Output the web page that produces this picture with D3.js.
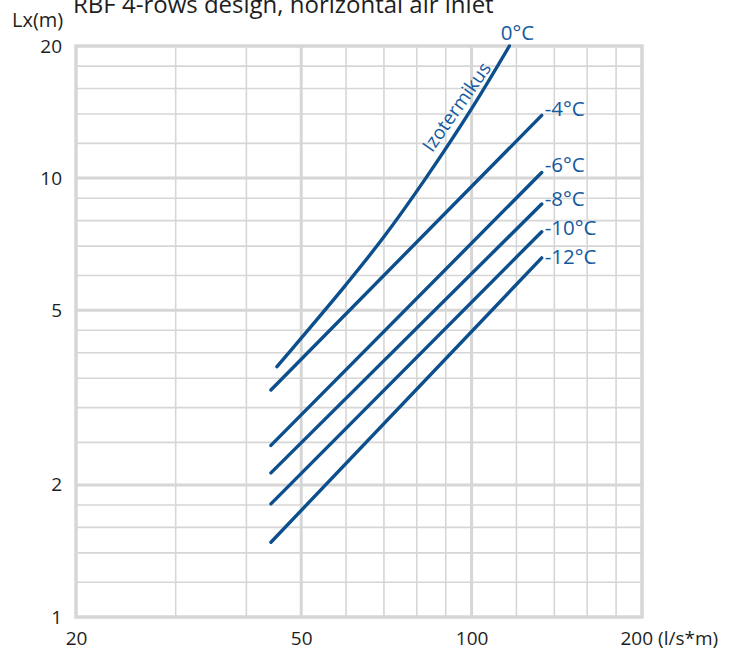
<!DOCTYPE html>
<html>
<head>
<meta charset="utf-8">
<script src="https://cdn.jsdelivr.net/npm/d3@7"></script>
<style>
  body { margin: 0; background: #fff; }
  svg { display: block; font-family: "Open Sans", sans-serif; }
</style>
</head>
<body>
<svg id="chart" width="739" height="650"></svg>
<script>
// ---- data ----
const titleText = "RBF 4-rows design, horizontal air inlet";
const yAxisTitle = "Lx(m)";
const xUnit = "(l/s*m)";
const xTickLabels = [20, 50, 100, 200];
const yTickLabels = [1, 2, 5, 10, 20];
const xMajorGrid = [50, 100];
const xMinorGrid = [30, 40, 60, 70, 80, 90, 120, 140, 160, 180];
const yMajorGrid = [2, 5, 10];
const yMinorGrid = [1.2, 1.4, 1.6, 1.8, 2.5, 3, 3.5, 4, 4.5, 6, 7, 8, 9, 12, 14, 16, 18];

const seriesNames = ["0°C", "-4°C", "-6°C", "-8°C", "-10°C", "-12°C"];
const iso0X = [45.3, 50, 60, 70, 83, 100, 116.6];
const iso0Y = [3.72, 4.32, 5.72, 7.35, 10.0, 14.4, 20];
const lineX = [44.2, 133];
const m4Y = [3.29, 13.9];
const m6Y = [2.46, 10.3];
const m8Y = [2.13, 8.73];
const m10Y = [1.81, 7.55];
const m12Y = [1.48, 6.58];
const isoLabel = "Izotermikus";
const isoLabelAt = [85.2, 11.4];

// ---- layout / style ----
const mLeft = 76, mRight = 642, mTop = 46, mBottom = 617;
const blue = "#0c4f8c";
const labelBlue = "#135a9f";
const gridCol = "#d6d6d6";
const textCol = "#1e1e1e";
const fontSize = 19;
const labelSize = 20.5;

const svg = d3.select("#chart");
const x = d3.scaleLog().domain([20, 200]).range([mLeft, mRight]);
const y = d3.scaleLog().domain([1, 20]).range([mBottom, mTop]);

// grid
const g = svg.append("g");
g.selectAll(".vmin").data(xMinorGrid).join("line")
  .attr("x1", d => x(d)).attr("x2", d => x(d)).attr("y1", mTop).attr("y2", mBottom)
  .attr("stroke", gridCol).attr("stroke-width", 1.6);
g.selectAll(".hmin").data(yMinorGrid).join("line")
  .attr("y1", d => y(d)).attr("y2", d => y(d)).attr("x1", mLeft).attr("x2", mRight)
  .attr("stroke", gridCol).attr("stroke-width", 1.6);
g.selectAll(".vmaj").data(xMajorGrid).join("line")
  .attr("x1", d => x(d)).attr("x2", d => x(d)).attr("y1", mTop).attr("y2", mBottom)
  .attr("stroke", gridCol).attr("stroke-width", 3);
g.selectAll(".hmaj").data(yMajorGrid).join("line")
  .attr("y1", d => y(d)).attr("y2", d => y(d)).attr("x1", mLeft).attr("x2", mRight)
  .attr("stroke", gridCol).attr("stroke-width", 3);
g.append("rect")
  .attr("x", x(20)).attr("y", y(20))
  .attr("width", x(200) - x(20)).attr("height", y(1) - y(20))
  .attr("fill", "none").attr("stroke", gridCol).attr("stroke-width", 3.5);

// axes (labels only)
const xAxis = svg.append("g").attr("transform", `translate(0,${mBottom + 11})`)
  .call(d3.axisBottom(x).tickValues(xTickLabels).tickSize(0)
    .tickFormat(d => d === 200 ? d + " " + xUnit : String(d)));
xAxis.select(".domain").remove();
xAxis.selectAll("text").attr("font-size", fontSize).attr("fill", textCol)
  .attr("font-family", "Open Sans, sans-serif").attr("dy", "0.71em");
xAxis.selectAll(".tick").filter(d => d === 200).select("text")
  .attr("text-anchor", "start").attr("x", -22);

const yAxis = svg.append("g").attr("transform", `translate(${mLeft - 14},0)`)
  .call(d3.axisLeft(y).tickValues(yTickLabels).tickSize(0).tickFormat(d3.format("d")));
yAxis.select(".domain").remove();
yAxis.selectAll("text").attr("font-size", fontSize).attr("fill", textCol)
  .attr("font-family", "Open Sans, sans-serif").attr("x", 0);

// title + y axis title
svg.append("text").attr("x", 73).attr("y", 13)
  .attr("font-size", 24).attr("fill", textCol).text(titleText);
svg.append("text").attr("x", 12).attr("y", 27)
  .attr("font-size", 20).attr("fill", textCol).text(yAxisTitle);

// series
const straightY = [m4Y, m6Y, m8Y, m10Y, m12Y];
const series = [iso0X.map((v, i) => [v, iso0Y[i]])]
  .concat(straightY.map(ys => lineX.map((v, i) => [v, ys[i]])));

const line = d3.line().x(d => x(d[0])).y(d => y(d[1])).curve(d3.curveCatmullRom.alpha(0.5));
svg.append("g").selectAll("path").data(series).join("path")
  .attr("d", line)
  .attr("fill", "none").attr("stroke", blue).attr("stroke-width", 3.4)
  .attr("stroke-linecap", "round");

// series labels
const labelDy = [0, -7, -8, -5, -4, -1];
seriesNames.forEach((name, i) => {
  const pts = series[i];
  const end = pts[pts.length - 1];
  if (i === 0) {
    svg.append("text").attr("x", x(end[0]) + 8).attr("y", y(end[1]) - 6)
      .attr("text-anchor", "middle")
      .attr("font-size", labelSize).attr("fill", labelBlue).text(name);
  } else {
    svg.append("text").attr("x", x(end[0]) + 3).attr("y", y(end[1]) + labelDy[i])
      .attr("dy", "0.35em")
      .attr("font-size", labelSize).attr("fill", labelBlue).text(name);
  }
});

// isotherm rotated label
svg.append("text")
  .attr("transform", `translate(${x(isoLabelAt[0])},${y(isoLabelAt[1])}) rotate(-55)`)
  .attr("font-size", fontSize).attr("fill", labelBlue).text(isoLabel);
</script>
</body>
</html>
